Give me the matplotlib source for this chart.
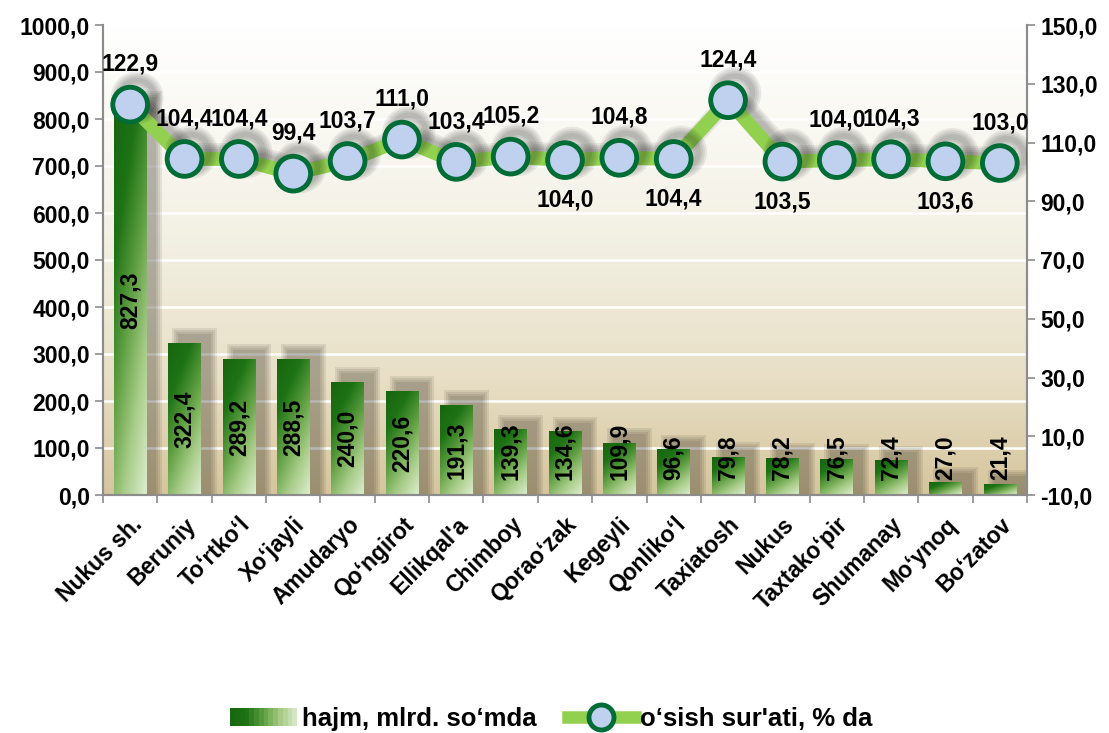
import numpy as np
import matplotlib
matplotlib.use('Agg')
import matplotlib.pyplot as plt
from matplotlib.colors import LinearSegmentedColormap
from matplotlib.patches import Rectangle
from matplotlib.lines import Line2D
from matplotlib.legend_handler import HandlerBase
import matplotlib.patheffects as pe

categories = ["Nukus sh.", "Beruniy", "To‘rtko‘l", "Xo‘jayli", "Amudaryo", "Qo‘ngirot",
              "Ellikqal'a", "Chimboy", "Qorao‘zak", "Kegeyli", "Qonliko‘l", "Taxiatosh",
              "Nukus", "Taxtako‘pir", "Shumanay", "Mo‘ynoq", "Bo‘zatov"]
volume = [827.3, 322.4, 289.2, 288.5, 240.0, 220.6, 191.3, 139.3, 134.6, 109.9,
          96.6, 79.8, 78.2, 76.5, 72.4, 27.0, 21.4]
growth = [122.9, 104.4, 104.4, 99.4, 103.7, 111.0, 103.4, 105.2, 104.0, 104.8,
          104.4, 124.4, 103.5, 104.0, 104.3, 103.6, 103.0]
growth_label_below = [False, False, False, False, False, False, False, False, True, False,
                      True, False, True, False, False, True, False]
left_ticks = [0, 100, 200, 300, 400, 500, 600, 700, 800, 900, 1000]
right_ticks = [-10, 10, 30, 50, 70, 90, 110, 130, 150]
legend_labels = ["hajm, mlrd. so‘mda", "o‘sish sur'ati, % da"]

plt.rcParams['font.family'] = ['Liberation Sans', 'DejaVu Sans']
plt.rcParams['font.weight'] = 'bold'
FS = 16.5

def fmt(v):
    return f"{v:.1f}".replace('.', ',')

W, H = 1109, 733
fig = plt.figure(figsize=(W / 100, H / 100), dpi=100)
L, R, T, B = 103, 1027, 25, 495
ax = fig.add_axes([L / W, 1 - B / H, (R - L) / W, (B - T) / H])
n = len(categories)
x = np.arange(n)
ax.set_xlim(-0.5, n - 0.5)
ax.set_ylim(0, 1000)

# background gradient
bg_cmap = LinearSegmentedColormap.from_list(
    'bg', [(0.0, '#d6c59d'), (0.25, '#e8dfc6'), (0.55, '#f3f1e4'), (1.0, '#ffffff')])
grad = np.linspace(1, 0, 256).reshape(-1, 1)
ax.imshow(grad, extent=[-0.5, n - 0.5, 0, 1000], aspect='auto', cmap=bg_cmap,
          zorder=0, interpolation='bicubic')

ax.set_yticks(left_ticks)
ax.set_yticklabels([fmt(v) for v in left_ticks], fontsize=FS)
ax.yaxis.grid(True, color='white', lw=1.8)
ax.set_axisbelow(True)

# bars with diagonal gradient and blurred shadow
bar_cmap = LinearSegmentedColormap.from_list(
    'bar', ['#dcedcf', '#a8cc88', '#5f9f42', '#1e7315', '#17650f'])
w = 0.6
px_x = n / (R - L)
px_y = 1000 / (B - T)
uu, vv = np.meshgrid(np.linspace(0, 1, 24), np.linspace(0, 1, 160))
bar_grad = 1 - (0.35 * uu + 0.65 * vv)
for i, v in enumerate(volume):
    for g in [6, 4, 2, 0]:
        ax.add_patch(Rectangle((i - w / 2 + 10 * px_x - g * px_x, 0),
                               w + 2 * g * px_x, v + (9 + g) * px_y,
                               facecolor='#2a2418', alpha=0.095, edgecolor='none', zorder=1.5))
    bg = 1 - (0.5 * uu + 0.5 * vv) if v < 50 else bar_grad
    ax.imshow(bg, extent=[i - w / 2, i + w / 2, 0, v], aspect='auto',
              cmap=bar_cmap, vmin=0, vmax=1, zorder=2, interpolation='bilinear')
    if v >= 180:
        ax.text(i, v / 2, fmt(v), rotation=90, ha='center', va='center',
                fontsize=FS, fontweight='bold', zorder=4)
    else:
        ax.text(i, 32, fmt(v), rotation=90, ha='center', va='bottom',
                fontsize=FS, fontweight='bold', zorder=4)
ax.set_xlim(-0.5, n - 0.5)
ax.set_ylim(0, 1000)

# x axis
ax.set_xticks(x)
ax.set_xticklabels(categories, rotation=45, ha='right', rotation_mode='anchor', fontsize=FS)
ax.set_xticks(np.arange(-0.5, n, 1), minor=True)
ax.tick_params(axis='x', which='major', length=0, pad=13)
ax.tick_params(axis='x', which='minor', length=6, color='#8c8c8c', width=1.2)
ax.tick_params(axis='y', length=6, color='#8c8c8c', width=1.2)
for s in ['left', 'bottom', 'right']:
    ax.spines[s].set_color('#8c8c8c')
    ax.spines[s].set_linewidth(1.5)
ax.spines['top'].set_visible(False)

# line on secondary axis
ax2 = ax.twinx()
ax2.set_ylim(-10, 150)
ax2.set_yticks(right_ticks)
ax2.set_yticklabels([fmt(v) for v in right_ticks], fontsize=FS)
ax2.tick_params(axis='y', length=6, color='#8c8c8c', width=1.2)
for s in ['left', 'bottom', 'right']:
    ax2.spines[s].set_color('#8c8c8c')
    ax2.spines[s].set_linewidth(1.5)
ax2.spines['top'].set_visible(False)

shadow_fx = [pe.SimpleLineShadow(offset=(5, 5), shadow_color='black', alpha=0.07, linewidth=lw)
             for lw in (13, 10, 7, 4)]
ax2.plot(x, growth, color='#92d050', lw=10, marker='o', ms=25, mfc='#c0d0ef',
         mec='#006c36', mew=3.5, zorder=5,
         path_effects=shadow_fx + [pe.Normal()], solid_joinstyle='round')
for i, g in enumerate(growth):
    dy = -29 if growth_label_below[i] else 29
    ax2.annotate(fmt(g), (i, g), xytext=(0, dy), textcoords='offset points',
                 ha='center', va='center', fontsize=FS, fontweight='bold', zorder=6)


class GradientHandler(HandlerBase):
    def create_artists(self, legend, orig_handle, xdescent, ydescent, width, height,
                       fontsize, trans):
        m = 14
        arts = []
        for k in range(m):
            c = bar_cmap(0.9 * (1 - k / (m - 1)) + 0.05)
            arts.append(Rectangle((-xdescent + width * k / m, -ydescent), width / m * 1.05,
                                  height, facecolor=c, edgecolor='none', transform=trans))
        return arts


bar_handle = Rectangle((0, 0), 1, 1)
line_handle = Line2D([], [], color='#92d050', lw=9, marker='o', ms=18, mfc='#c0d0ef',
                     mec='#006c36', mew=3.5)
fig.legend([bar_handle, line_handle], legend_labels,
           handler_map={bar_handle: GradientHandler()},
           loc='center', bbox_to_anchor=(0.497, 1 - 719 / H), ncol=2, frameon=False,
           fontsize=FS + 2, handlelength=2.6, columnspacing=1.2, handletextpad=0.2,
           borderaxespad=0, borderpad=0)

fig.savefig('out.png', dpi=100)
